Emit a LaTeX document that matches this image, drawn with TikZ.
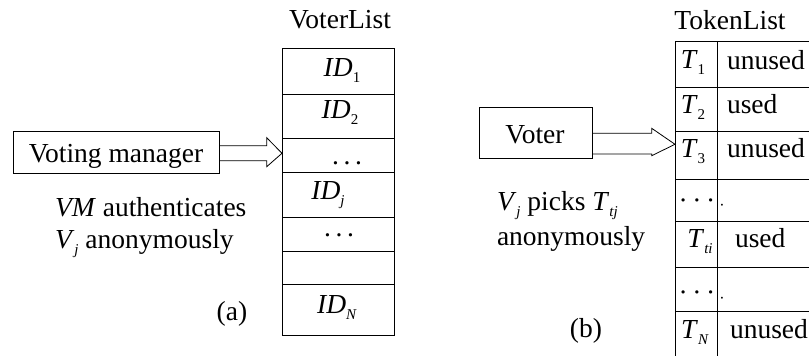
\documentclass[tikz,border=0pt]{standalone}
\usepackage{fontspec}
\setmainfont{Liberation Serif}
\usetikzlibrary{calc}
\newcommand\sbs[1]{\raisebox{-6pt}{\fontsize{15}{15}\selectfont #1}}
\begin{document}
\begin{tikzpicture}[x=1pt,y=-1pt,line width=0.9pt,
  every node/.style={font=\fontsize{27.5}{32}\selectfont, inner sep=0pt, outer sep=0pt},
  box/.style={draw, line width=0.9pt},
  txt/.style={anchor=base},
  txtw/.style={anchor=base west}]
\useasboundingbox (0,0) rectangle (809,356);

% ---------- (a) ----------
\node[txt] (vlist) at (340,28) {VoterList};
\draw (282,48) rectangle (394,335);
\foreach \yy in {94,138,172,217,251,284} \draw (282,\yy) -- (394,\yy);
\node[txt] (id1) at (342,76) {\textit{ID}\sbs{1}};
\node[txt] (id2) at (340,118) {\textit{ID}\sbs{2}};
\node[txt] (da1) at (347,164) {.\,.\,.};
\node[txt] (idj) at (328,199) {\textit{ID}\sbs{\textit{j}}};
\node[txt] (da2) at (339,236) {.\,.\,.};
\node[txt] (idN) at (337,313) {\textit{ID}\sbs{\textit{N}}};

\node[box, minimum width=206pt, minimum height=42pt] (vm) at (116,152) {};
\node[txt] (vmt) at (116,162) {Voting manager};
\coordinate (tipA) at (282,153.3);
\coordinate (sA1) at (219,145.7);
\coordinate (sA2) at (219,160.7);
\draw[line width=0.8pt] (sA1) -- (266.7,145.7) -- (266.7,137.7) -- (tipA)
   -- (266.7,166.7) -- (266.7,160.7) -- (sA2);
\node[txtw] (auth1) at (55,216) {\textit{VM} authenticates};
\node[txtw] (auth2) at (55,248) {\textit{V}\sbs{\textit{j}} anonymously};
\node[txt] (capa) at (232,320) {(a)};

% ---------- (b) ----------
\node[txt] (tlist) at (730,29) {TokenList};
\draw (675,356) -- (675,41) -- (812,41);
\draw (717,41) -- (717,356);
\foreach \yy in {87,131,179,221,267,311} \draw (675,\yy) -- (812,\yy);
\node[txt] (t1) at (693,68) {\textit{T}\sbs{1}};
\node[txtw] (u1) at (727,69) {unused};
\node[txt] (t2) at (693,113) {\textit{T}\sbs{2}};
\node[txtw] (u2) at (727,113) {used};
\node[txt] (t3) at (693,157) {\textit{T}\sbs{3}};
\node[txtw] (u3) at (727,157) {unused};
\node[txt] (db1) at (697,209) {·\,·\,·};
\node[txt] (db1b) at (722,210) {\fontsize{16}{16}\selectfont ·};
\node[txt] (tti) at (700,247) {\textit{T}\sbs{\textit{ti}}};
\node[txtw] (u5) at (735,247) {used};
\node[txt] (db2) at (697,301) {·\,·\,·};
\node[txt] (db2b) at (722,303) {\fontsize{16}{16}\selectfont ·};
\node[txt] (tN) at (695,338) {\textit{T}\sbs{\textit{N}}};
\node[txtw] (u7) at (730,338) {unused};

\node[box, minimum width=113pt, minimum height=51pt] (voter) at (535.5,132.5) {};
\node[txt] (votert) at (535,143) {Voter};
\coordinate (tipB) at (675,144.3);
\coordinate (sB1) at (592,133.3);
\coordinate (sB2) at (592,154);
\draw[line width=0.8pt] (sB1) -- (651.7,133.3) -- (651.7,128.3) -- (tipB)
   -- (651.7,155.7) -- (651.7,154) -- (sB2);
\node[txtw] (pick1) at (497,210) {\textit{V}\sbs{\textit{j}} picks \textit{T}\sbs{\textit{tj}}};
\node[txtw] (pick2) at (497,245) {anonymously};
\node[txt] (capb) at (586,337) {(b)};
\end{tikzpicture}
\end{document}
